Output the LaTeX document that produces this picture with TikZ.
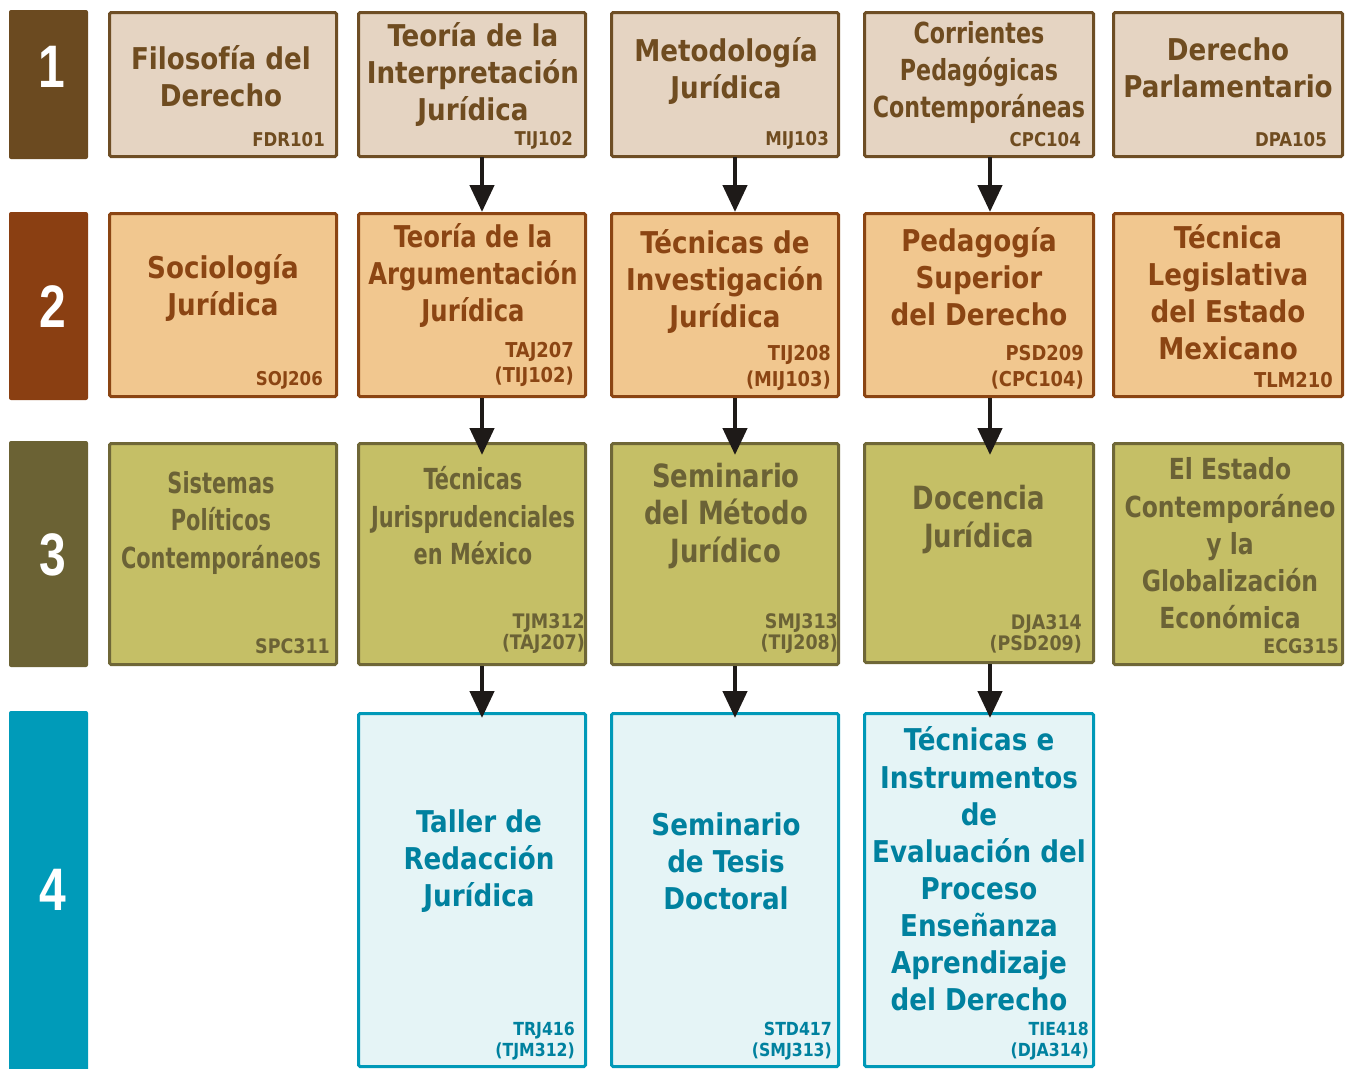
\documentclass[tikz,border=0pt]{standalone}
\usepackage{fontspec}
\setmainfont{DejaVu Sans Condensed}[FakeStretch=0.97]
\newfontfamily\narrowf[FakeStretch=0.8]{DejaVu Sans Condensed}
\newfontfamily\narrowg[FakeStretch=0.9]{DejaVu Sans Condensed}
\newfontfamily\narrowh[FakeStretch=0.85]{DejaVu Sans Condensed}
\newfontfamily\numf[FakeStretch=0.8]{Liberation Sans}
\usetikzlibrary{arrows.meta}
\definecolor{barA}{HTML}{6B4A20}
\definecolor{fillA}{HTML}{E5D4C2}
\definecolor{lineA}{HTML}{6E4E25}
\definecolor{textA}{HTML}{6F4C20}
\definecolor{barB}{HTML}{8A3F12}
\definecolor{fillB}{HTML}{F1C78F}
\definecolor{lineB}{HTML}{8B4513}
\definecolor{textB}{HTML}{8B4513}
\definecolor{barC}{HTML}{6B6234}
\definecolor{fillC}{HTML}{C5BF66}
\definecolor{lineC}{HTML}{6F6737}
\definecolor{textC}{HTML}{6B6236}
\definecolor{barD}{HTML}{009BB9}
\definecolor{fillD}{HTML}{E5F4F6}
\definecolor{lineD}{HTML}{0099B8}
\definecolor{textD}{HTML}{00819F}
\definecolor{arrowc}{HTML}{1E1A18}
\begin{document}
\begin{tikzpicture}[x=1pt,y=-1pt,
  bar/.style={fill=#1, rounded corners=2pt, inner sep=0pt, minimum width=79pt},
  num/.style={text=white, font=\numf\bfseries\fontsize{60}{60}\selectfont, inner sep=0pt},
  box/.style={inner sep=0pt, line width=3pt, rounded corners=1.5pt},
  boxA/.style={box, draw=lineA, fill=fillA},
  boxB/.style={box, draw=lineB, fill=fillB},
  boxC/.style={box, draw=lineC, fill=fillC},
  boxD/.style={box, draw=lineD, fill=fillD},
  ttl/.style={align=center, inner sep=0pt, font=\bfseries\fontsize{30}{37}\selectfont},
  nttl/.style={align=center, inner sep=0pt, font=\narrowf\bfseries\fontsize{29}{37.5}\selectfont},
  code/.style={align=right, anchor=east, inner sep=0pt, font=\bfseries\fontsize{19}{25}\selectfont},
  codeB/.style={align=right, anchor=east, inner sep=0pt, font=\bfseries\fontsize{20.5}{25.5}\selectfont},
  ncode/.style={align=right, anchor=east, inner sep=0pt, font=\bfseries\fontsize{20}{21}\selectfont},
  dcode/.style={align=right, anchor=east, inner sep=0pt, font=\bfseries\fontsize{18}{21}\selectfont},
  arr/.style={draw=arrowc, line width=4.5pt, -{Triangle[length=27pt,width=24pt]}}
]
\useasboundingbox (0,0) rectangle (1353,1069);
% row bars
\node[bar=barA, minimum height=149pt] (R1) at (48.5,84.5) {};
\node[bar=barB, minimum height=188pt] (R2) at (48.5,306) {};
\node[bar=barC, minimum height=226pt] (R3) at (48.5,554) {};
\node[bar=barD, minimum height=362pt] (R4) at (48.5,892) {};
\node[num] (N1) at (52,67) {1};
\node[num] (N2) at (53,307) {2};
\node[num] (N3) at (53,555) {3};
\node[num] (N4) at (53,890) {4};
% row 1
\node[boxA, minimum width=227pt, minimum height=144pt] (B11) at (223,84.5) {};
\node[boxA, minimum width=227pt, minimum height=144pt] (B12) at (472,84.5) {};
\node[boxA, minimum width=227pt, minimum height=144pt] (B13) at (725,84.5) {};
\node[boxA, minimum width=229pt, minimum height=144pt] (B14) at (979,84.5) {};
\node[boxA, minimum width=229pt, minimum height=144pt] (B15) at (1228,84.5) {};
% row 2
\node[boxB, minimum width=227pt, minimum height=183pt] (B21) at (223,305) {};
\node[boxB, minimum width=227pt, minimum height=183pt] (B22) at (472,305) {};
\node[boxB, minimum width=227pt, minimum height=183pt] (B23) at (725,305) {};
\node[boxB, minimum width=229pt, minimum height=183pt] (B24) at (979,305) {};
\node[boxB, minimum width=229pt, minimum height=183pt] (B25) at (1228,305) {};
% row 3
\node[boxC, minimum width=227pt, minimum height=221pt] (B31) at (223,554) {};
\node[boxC, minimum width=227pt, minimum height=221pt] (B32) at (472,554) {};
\node[boxC, minimum width=227pt, minimum height=221pt] (B33) at (725,554) {};
\node[boxC, minimum width=229pt, minimum height=219pt] (B34) at (979,553) {};
\node[boxC, minimum width=229pt, minimum height=221pt] (B35) at (1228,554) {};
% row 4
\node[boxD, minimum width=227pt, minimum height=353pt] (B42) at (472,890) {};
\node[boxD, minimum width=227pt, minimum height=353pt] (B43) at (725,890) {};
\node[boxD, minimum width=229pt, minimum height=353pt] (B44) at (979,890) {};
% row 1 texts
\node[ttl, text=textA] (T11) at (221,76.5) {Filosofía del\\Derecho};
\node[code, text=textA] (C11) at (325,140) {FDR101};
\node[ttl, text=textA] (T12) at (473,75) {Teoría de la\\Interpretación\\Jurídica};
\node[code, text=textA] (C12) at (573,140) {TIJ102};
\node[ttl, text=textA] (T13) at (726,71.5) {Metodología\\Jurídica};
\node[code, text=textA] (C13) at (829,140) {MIJ103};
\node[nttl, text=textA, font=\narrowh\bfseries\fontsize{29}{37}\selectfont] (T14) at (979,72) {Corrientes\\Pedagógicas\\Contemporáneas};
\node[code, text=textA] (C14) at (1081,140) {CPC104};
\node[ttl, text=textA] (T15) at (1228,67.5) {Derecho\\Parlamentario};
\node[code, text=textA] (C15) at (1327,140) {DPA105};
% row 2 texts
\node[ttl, text=textB] (T21) at (223,287.5) {Sociología\\Jurídica};
\node[code, text=textB] (C21) at (323,380) {SOJ206};
\node[ttl, text=textB, font=\narrowg\bfseries\fontsize{30}{37}\selectfont] (T22) at (473,275) {Teoría de la\\Argumentación\\Jurídica};
\node[codeB, text=textB] (C22) at (574,364.5) {TAJ207\\(TIJ102)};
\node[ttl, text=textB] (T23) at (725,281.5) {Técnicas de\\Investigación\\Jurídica};
\node[codeB, text=textB] (C23) at (831,368) {TIJ208\\(MIJ103)};
\node[ttl, text=textB] (T24) at (979,276.5) {Pedagogía\\Superior\\del Derecho};
\node[codeB, text=textB] (C24) at (1084,367) {PSD209\\(CPC104)};
\node[ttl, text=textB] (T25) at (1228,292.5) {Técnica\\Legislativa\\del Estado\\Mexicano};
\node[codeB, text=textB] (C25) at (1333,380) {TLM210};
% row 3 texts
\node[nttl, text=textC] (T31) at (221,522.5) {Sistemas\\Políticos\\Contemporáneos};
\node[ncode, text=textC] (C31) at (330,646) {SPC311};
\node[nttl, text=textC] (T32) at (473,516) {Técnicas\\Jurisprudenciales\\en México};
\node[ncode, text=textC] (C32) at (585,633.5) {TJM312\\(TAJ207)};
\node[nttl, text=textC, font=\narrowg\bfseries\fontsize{32}{37.5}\selectfont] (T33) at (726,516) {Seminario\\del Método\\Jurídico};
\node[ncode, text=textC] (C33) at (838,633.5) {SMJ313\\(TIJ208)};
\node[nttl, text=textC, font=\narrowg\bfseries\fontsize{32}{38}\selectfont] (T34) at (979,520) {Docencia\\Jurídica};
\node[ncode, text=textC] (C34) at (1082,633.5) {DJA314\\(PSD209)};
\node[nttl, text=textC, font=\narrowg\bfseries\fontsize{29}{37.3}\selectfont] (T35) at (1230,543.5) {El Estado\\Contemporáneo\\y la\\Globalización\\Económica};
\node[ncode, text=textC] (C35) at (1339,646) {ECG315};
% row 4 texts
\node[ttl, text=textD] (T42) at (479,861) {Taller de\\Redacción\\Jurídica};
\node[dcode, text=textD] (C42) at (575,1041.5) {TRJ416\\(TJM312)};
\node[ttl, text=textD] (T43) at (726,861) {Seminario\\de Tesis\\Doctoral};
\node[dcode, text=textD] (C43) at (832,1041.5) {STD417\\(SMJ313)};
\node[ttl, text=textD, font=\bfseries\fontsize{30}{37.1}\selectfont] (T44) at (979,869) {Técnicas e\\Instrumentos\\de\\Evaluación del\\Proceso\\Enseñanza\\Aprendizaje\\del Derecho};
\node[dcode, text=textD] (C44) at (1089,1041.5) {TIE418\\(DJA314)};
% arrows
\draw[arr, shorten <=-1pt] ([xshift=10pt]B12.south) -- ([xshift=10pt]B22.north);
\draw[arr, shorten <=-1pt] ([xshift=10pt]B13.south) -- ([xshift=10pt]B23.north);
\draw[arr, shorten <=-1pt] ([xshift=11pt]B14.south) -- ([xshift=11pt]B24.north);
\draw[arr, shorten >=-13pt] ([xshift=10pt]B22.south) -- ([xshift=10pt]B32.north);
\draw[arr, shorten >=-13pt] ([xshift=10pt]B23.south) -- ([xshift=10pt]B33.north);
\draw[arr, shorten >=-13pt] ([xshift=11pt]B24.south) -- ([xshift=11pt]B34.north);
\draw[arr, shorten >=-6pt] ([xshift=10pt]B32.south) -- ([xshift=10pt]B42.north);
\draw[arr, shorten >=-6pt] ([xshift=10pt]B33.south) -- ([xshift=10pt]B43.north);
\draw[arr, shorten >=-6pt] ([xshift=11pt]B34.south) -- ([xshift=11pt]B44.north);
\end{tikzpicture}
\end{document}
